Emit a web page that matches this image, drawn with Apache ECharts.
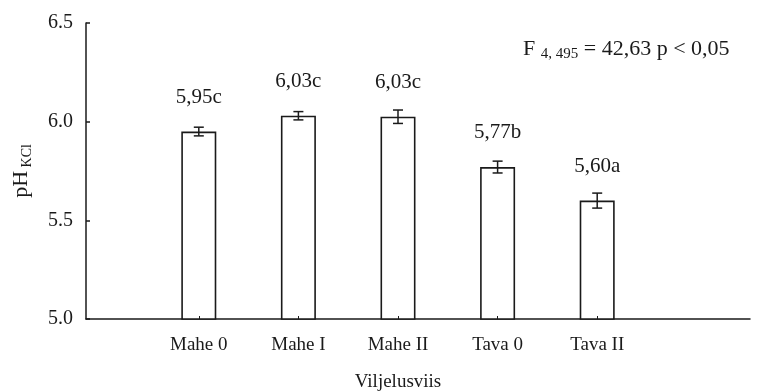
<!DOCTYPE html>
<html><head><meta charset="utf-8">
<script src="https://cdn.jsdelivr.net/npm/echarts@6/dist/echarts.min.js"></script>
<style>html,body{margin:0;padding:0;background:#fff}#c{width:763px;height:392px}</style>
</head><body><div id="c"></div>
<script>
const categories = ['Mahe 0', 'Mahe I', 'Mahe II', 'Tava 0', 'Tava II'];
const values = [5.95, 6.03, 6.025, 5.77, 5.60];
const errors = [0.022, 0.021, 0.034, 0.030, 0.038];
const letters = ['c', 'c', 'c', 'b', 'a'];
const yTicks = [5.0, 5.5, 6.0, 6.5];

const FONT = 'Liberation Serif';
const ink = '#1a1a1a';
const chart = echarts.init(document.getElementById('c'), null, {renderer: 'canvas'});
const errData = values.map((v, i) => [i, v - errors[i], v + errors[i]]);

chart.setOption({
  backgroundColor: '#fff',
  animation: false,
  textStyle: {fontFamily: FONT},
  title: {
    left: 518, top: 31,
    text: '{a|F }{s|4, 495}{a| = 42,63 p < 0,05}',
    textStyle: {
      rich: {
        a: {fontFamily: FONT, fontSize: 22, fontWeight: 'normal', color: ink, lineHeight: 26},
        s: {fontFamily: FONT, fontSize: 15, fontWeight: 'normal', color: ink, verticalAlign: 'bottom', lineHeight: 18, padding: [8, 0, 0, 0]}
      }
    }
  },
  grid: [
    {left: 86, right: 13, top: 23, bottom: 73, outerBoundsMode: 'none', containLabel: false},
    {left: 149, right: 116, top: 23, bottom: 73, outerBoundsMode: 'none', containLabel: false}
  ],
  xAxis: [
    {gridIndex: 0, type: 'category', data: [''], axisLine: {lineStyle: {color: ink, width: 1.5}},
     axisTick: {show: false}, axisLabel: {show: false}, splitLine: {show: false}},
    {gridIndex: 1, type: 'category', data: categories, z: 10,
     axisLine: {show: false},
     axisTick: {show: true, inside: true, alignWithLabel: true, length: 3, lineStyle: {color: ink, width: 1}},
     axisLabel: {fontFamily: FONT, fontSize: 19, color: ink, margin: 17},
     name: 'Viljelusviis', nameLocation: 'middle', nameGap: 54,
     nameTextStyle: {fontFamily: FONT, fontSize: 19, color: ink}}
  ],
  yAxis: [
    {gridIndex: 0, type: 'value', min: yTicks[0], max: yTicks[yTicks.length - 1], interval: 0.5,
     axisLine: {show: true, lineStyle: {color: ink, width: 1.5}},
     axisTick: {show: true, inside: true, length: 4, lineStyle: {color: ink, width: 1.5}},
     axisLabel: {fontFamily: FONT, fontSize: 20, color: ink, margin: 13, formatter: v => v.toFixed(1)},
     splitLine: {show: false},
     name: '{a|pH}{s| KCl}', nameLocation: 'middle', nameGap: 52,
     nameTextStyle: {rich: {
       a: {fontFamily: FONT, fontSize: 22, color: ink, lineHeight: 26},
       s: {fontFamily: FONT, fontSize: 14, color: ink, verticalAlign: 'bottom', lineHeight: 18, padding: [8, 0, 0, 0]}
     }}},
    {gridIndex: 1, type: 'value', min: yTicks[0], max: yTicks[yTicks.length - 1], interval: 0.5, show: false}
  ],
  series: [
    {type: 'bar', xAxisIndex: 1, yAxisIndex: 1, data: values, barWidth: 35,
     itemStyle: {color: '#fff', borderColor: ink, borderWidth: 1.6},
     label: {show: true, position: 'top', distance: 24, fontFamily: FONT, fontSize: 21, color: ink,
       formatter: p => p.value.toFixed(2).replace('.', ',') + letters[p.dataIndex]}},
    {type: 'custom', xAxisIndex: 1, yAxisIndex: 1, data: errData, z: 5,
     renderItem: (params, api) => {
       const x = api.value(0);
       const lo = api.coord([x, api.value(1)]);
       const hi = api.coord([x, api.value(2)]);
       const w = 5;
       const st = {stroke: ink, lineWidth: 1.5};
       return {type: 'group', children: [
         {type: 'line', shape: {x1: lo[0], y1: lo[1], x2: hi[0], y2: hi[1]}, style: st},
         {type: 'line', shape: {x1: lo[0] - w, y1: lo[1], x2: lo[0] + w, y2: lo[1]}, style: st},
         {type: 'line', shape: {x1: hi[0] - w, y1: hi[1], x2: hi[0] + w, y2: hi[1]}, style: st}
       ]};
     }}
  ]
});
</script>
</body></html>
